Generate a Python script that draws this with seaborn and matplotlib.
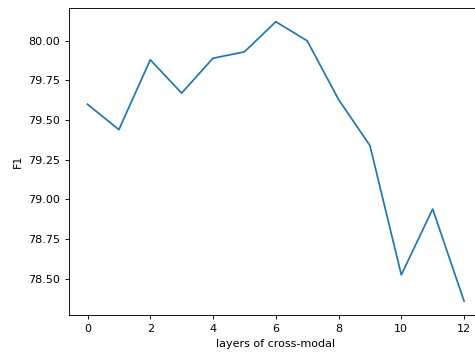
import matplotlib
matplotlib.use("Agg")
import matplotlib.pyplot as plt
import seaborn as sns
import pandas as pd

layers = [0, 1, 2, 3, 4, 5, 6, 7, 8, 9, 10, 11, 12]
f1 = [79.60, 79.44, 79.88, 79.67, 79.89, 79.93, 80.12, 80.00, 79.63, 79.34, 78.525, 78.94, 78.36]

df = pd.DataFrame({"layers": layers, "F1": f1})

plt.rcParams.update({
    "font.family": ["DejaVu Sans"],
    "font.size": 8,
    "xtick.major.size": 2.8,
    "ytick.major.size": 2.8,
    "axes.linewidth": 0.65,
    "xtick.major.width": 0.65,
    "ytick.major.width": 0.65,
})

fig = plt.figure(figsize=(4.75, 3.52), dpi=100)
ax = fig.add_axes([0.1446, 0.105, 0.872, 0.873])
sns.lineplot(data=df, x="layers", y="F1", ax=ax, color="#1f77b4", linewidth=1.25)
ax.set_xlabel("layers of cross-modal", fontsize=8)
ax.set_ylabel("F1", fontsize=8)
ax.set_xticks([0, 2, 4, 6, 8, 10, 12])
ax.set_yticks([78.50, 78.75, 79.00, 79.25, 79.50, 79.75, 80.00])
ax.set_yticklabels([f"{v:.2f}" for v in [78.50, 78.75, 79.00, 79.25, 79.50, 79.75, 80.00]])
ax.set_xlim(-0.6, 12.6)
ax.set_ylim(78.272, 80.208)
fig.savefig("out.png", dpi=100)
